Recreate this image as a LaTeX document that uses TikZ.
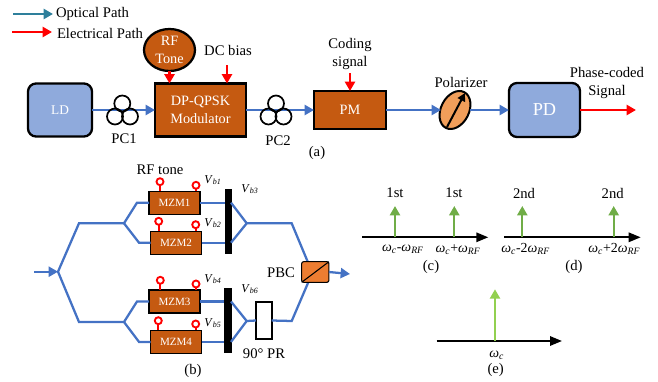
\documentclass[tikz,border=0pt]{standalone}
\usepackage{fontspec}
\setmainfont{Liberation Serif}
\usetikzlibrary{arrows.meta}
\usetikzlibrary{shapes.geometric}
\newcommand{\px}{0.75pt}
\newcommand{\vbias}[1]{\textit{V}\textsubscript{\textit{b#1}}}
\newcommand{\wc}{\textit{ω}\textsubscript{\textit{c}}}
\newcommand{\wrf}{\textit{ω}\textsubscript{\textit{RF}}}
\definecolor{boxorange}{HTML}{C55A11}
\definecolor{boxblue}{HTML}{8FAADC}
\definecolor{fibreblue}{HTML}{4472C4}
\definecolor{legendteal}{HTML}{2E7F9B}
\definecolor{pbcorange}{HTML}{ED7D31}
\definecolor{polorange}{HTML}{F19E5A}
\definecolor{linegreen}{HTML}{70AD47}
\definecolor{lightgreen}{HTML}{92D050}
\tikzset{
  every node/.style={font=\fontsize{11}{13}\selectfont, inner sep=0pt, outer sep=0pt},
  optical/.style={draw=fibreblue, line width=1.7pt, -{Triangle[length=7pt,width=7.5pt]}},
  fibre/.style={draw=fibreblue, line width=1.7pt},
  electrical/.style={draw=red, line width=1.7pt, -{Triangle[length=7pt,width=7.5pt]}},
  axisline/.style={draw=black, line width=1.5pt, -{Triangle[length=9pt,width=7pt]}},
  sideband/.style={draw=linegreen, line width=1.7pt, -{Triangle[length=7pt,width=7.5pt]}},
  blockbox/.style={draw=black, line width=1.7pt, fill=boxorange, text=white, align=center, font=\fontsize{10.7}{13}\selectfont},
  bluebox/.style={draw=black, line width=1.7pt, fill=boxblue, text=white, rounded corners=6pt},
  mzmbox/.style={draw=black, line width=0.9pt, fill=boxorange, text=white, minimum width=51*\px, minimum height=23*\px, font=\fontsize{8.3}{10}\selectfont},
  pcring/.style={draw=black, line width=1.3pt, circle, minimum size=16*\px},
  pin/.style={draw=red, line width=1.4pt, circle, fill=white, minimum size=7*\px},
  pinstem/.style={draw=red, line width=1.3pt},
  biasbar/.style={fill=black, minimum width=7.5*\px, minimum height=65*\px},
  biaslabel/.style={font=\fontsize{9}{11}\selectfont},
  freqlabel/.style={font=\fontsize{10.4}{12}\selectfont}
}
\begin{document}
\begin{tikzpicture}[x=\px, y=-\px]
      \useasboundingbox (0, 0) rectangle (658, 382);

      % legend
      \coordinate (optA) at (13, 14);
      \coordinate (optB) at (53, 14);
      \coordinate (eleA) at (12, 32);
      \coordinate (eleB) at (52, 32);
      \draw [legendteal, line width=1.7pt, -{Triangle[length=7pt,width=7.5pt]}] (optA) -- (optB);
      \draw [electrical] (eleA) -- (eleB);
      \node [anchor=west] (optlabel) at (56, 14) {Optical Path};
      \node [anchor=west] (elelabel) at (57, 33) {Electrical Path};

      % (a)
      \node [bluebox, minimum width=64*\px, minimum height=53*\px, font=\fontsize{10}{12}\selectfont] (ld) at (60, 110) {LD};
      \node [blockbox, minimum width=91*\px, minimum height=53*\px] (mod) at (200.5, 110) {DP-QPSK\\Modulator};
      \node [blockbox, minimum width=72*\px, minimum height=38*\px] (pm) at (350, 110) {PM};
      \node [bluebox, minimum width=71*\px, minimum height=54*\px, font=\fontsize{13.7}{15}\selectfont] (pd) at (544.5, 110) {PD};
      \node [draw=black, line width=1.7pt, ellipse, fill=boxorange, text=white, align=center, minimum width=51*\px, minimum height=42*\px, font=\fontsize{10.7}{13}\selectfont] (rf) at (169.5, 50) {RF\\Tone};
      \node [draw=black, line width=1.5pt, ellipse, fill=polorange, minimum width=40.2*\px, minimum height=28*\px, rotate=63] (pol) at (455, 110) {};

      \coordinate (polin) at (441, 110);
      \coordinate (polout) at (470, 110);
      \draw [optical] (ld.east) -- (mod.west);
      \draw [optical] (mod.east) -- (pm.west);
      \draw [optical] (pm.east) -- (polin);
      \draw [optical] (polout) -- (pd.west);

      \node [pcring] (pc1a) at (122.3, 103.5) {};
      \node [pcring] (pc1b) at (115, 116.5) {};
      \node [pcring] (pc1c) at (130, 116.5) {};
      \node [pcring] (pc2a) at (276, 103.5) {};
      \node [pcring] (pc2b) at (268.5, 116.5) {};
      \node [pcring] (pc2c) at (283.5, 116.5) {};
      \node (pc1) at (124, 139) {PC1};
      \node (pc2) at (278, 141) {PC2};

      \coordinate (polA) at (447, 127);
      \coordinate (polB) at (465, 93);
      \draw [black, line width=1.5pt, -{Triangle[length=6pt,width=6pt]}] (polA) -- (polB);

      \node (dcbias) at (228, 50) {DC bias};
      \node [align=center] (coding) at (350, 54) {Coding\\signal};
      \node (polarizer) at (461, 82) {Polarizer};
      \node [align=center] (phase) at (607, 83) {Phase-coded\\Signal};
      \node (capa) at (317, 153) {(a)};

      \coordinate (dcin) at (227, 65);
      \coordinate (codein) at (350, 73);
      \coordinate (pdout) at (636, 110);
      \draw [electrical] (rf.south) -- (rf.south |- mod.north);
      \draw [electrical] (dcin) -- (dcin |- mod.north);
      \draw [electrical] (codein) -- (codein |- pm.north);
      \draw [electrical] (pd.east) -- (pdout);

      % (b)
      \node [mzmbox] (mzm1) at (174.5, 202.7) {MZM1};
      \node [mzmbox] (mzm2) at (176, 242.7) {MZM2};
      \node [mzmbox] (mzm3) at (174.5, 301.5) {MZM3};
      \node [mzmbox] (mzm4) at (176, 341.9) {MZM4};
      \node [biasbar] (bar1) at (228.5, 221.5) {};
      \node [biasbar] (bar2) at (228, 320.8) {};
      \node [draw=black, line width=1.5pt, fill=white, minimum width=15.7*\px, minimum height=37.6*\px] (pr) at (263.8, 320.5) {};

      \coordinate (in) at (34, 271.7);
      \coordinate (split) at (58, 271.7);
      \coordinate (upA) at (79, 223.3);
      \coordinate (upB) at (124, 223.3);
      \coordinate (upC) at (137, 202.7);
      \coordinate (upD) at (139, 242.7);
      \coordinate (loA) at (79, 322);
      \coordinate (loB) at (124, 322);
      \coordinate (loC) at (137, 301.5);
      \coordinate (loD) at (139, 341.9);
      \coordinate (upE) at (231, 202.7);
      \coordinate (upF) at (231, 242.7);
      \coordinate (upG) at (246.7, 223.3);
      \coordinate (upH) at (291.7, 223.3);
      \coordinate (loE) at (231, 301.5);
      \coordinate (loF) at (231, 341.9);
      \coordinate (loG) at (246.7, 321);
      \coordinate (loH) at (291.7, 321);
      \coordinate (pbcin) at (307.7, 261.7);
      \coordinate (pbcinb) at (308.3, 282.3);
      \coordinate (out) at (350, 274);

      \draw [optical] (in) -- (split);
      \draw [fibre] (mzm1.west) -- (upC) -- (upB) -- (upA) -- (split) -- (loA) -- (loB) -- (loC) -- (mzm3.west);
      \draw [fibre] (upB) -- (upD) -- (mzm2.west);
      \draw [fibre] (loB) -- (loD) -- (mzm4.west);
      \draw [fibre] (mzm1.east) -- (bar1.west |- mzm1.east);
      \draw [fibre] (mzm2.east) -- (bar1.west |- mzm2.east);
      \draw [fibre] (mzm3.east) -- (bar2.west |- mzm3.east);
      \draw [fibre] (mzm4.east) -- (bar2.west |- mzm4.east);
      \draw [fibre] (upE) -- (upG) -- (upF);
      \draw [fibre] (upG) -- (upH) -- (pbcin);
      \draw [fibre] (loE) -- (loG) -- (loF);
      \draw [fibre] (loG) -- (pr.west);
      \draw [fibre] (pr.east) -- (loH) -- (pbcinb);

      \node [draw=black, line width=0.8pt, fill=pbcorange, rounded corners=1.5pt, minimum width=27.3*\px, minimum height=20.6*\px] (pbc) at (315.3, 272) {};
      \draw [black, line width=0.8pt] (pbc.south west) -- (pbc.north east);
      \draw [optical] (pbc.east) -- (out);

      % pins
      \node [pin] (pin1a) at (160, 181.7) {};
      \node [pin] (pin1b) at (196, 185.3) {};
      \node [pin] (pin2a) at (158.7, 221.3) {};
      \node [pin] (pin2b) at (195.7, 224.7) {};
      \node [pin] (pin3a) at (160.3, 280.3) {};
      \node [pin] (pin3b) at (196, 284) {};
      \node [pin] (pin4a) at (158.3, 320.7) {};
      \node [pin] (pin4b) at (195.7, 324) {};
      \draw [pinstem] (pin1a) -- (pin1a |- mzm1.north);
      \draw [pinstem] (pin1b) -- (pin1b |- mzm1.north);
      \draw [pinstem] (pin2a) -- (pin2a |- mzm2.north);
      \draw [pinstem] (pin2b) -- (pin2b |- mzm2.north);
      \draw [pinstem] (pin3a) -- (pin3a |- mzm3.north);
      \draw [pinstem] (pin3b) -- (pin3b |- mzm3.north);
      \draw [pinstem] (pin4a) -- (pin4a |- mzm4.north);
      \draw [pinstem] (pin4b) -- (pin4b |- mzm4.north);

      \node (rftone) at (160, 170) {RF tone};
      \node [biaslabel] (vb1) at (213, 180) {\vbias{1}};
      \node [biaslabel] (vb2) at (213, 223) {\vbias{2}};
      \node [biaslabel] (vb3) at (250, 189) {\vbias{3}};
      \node [biaslabel] (vb4) at (213, 279) {\vbias{4}};
      \node [biaslabel] (vb5) at (213, 323) {\vbias{5}};
      \node [biaslabel] (vb6) at (250, 289) {\vbias{6}};
      \node (pbclabel) at (281, 272.3) {PBC};
      \node (prlabel) at (264, 353.3) {90° PR};
      \node (capb) at (193, 371) {(b)};

      % (c)
      \coordinate (cA) at (362.3, 237.3);
      \coordinate (cB) at (488.3, 237.3);
      \coordinate (cL) at (395, 237.3);
      \coordinate (cLt) at (395, 206);
      \coordinate (cR) at (454.3, 237.3);
      \coordinate (cRt) at (454.3, 206);
      \draw [axisline] (cA) -- (cB);
      \draw [sideband] (cL) -- (cLt);
      \draw [sideband] (cR) -- (cRt);
      \node (cLn) at (395, 193) {1st};
      \node (cRn) at (454, 193) {1st};
      \node [freqlabel] (cLf) at (403, 249.3) {\wc-\wrf};
      \node [freqlabel] (cRf) at (458, 249.3) {\wc+\wrf};
      \node (capc) at (431, 266.7) {(c)};

      % (d)
      \coordinate (dA) at (504.3, 237.3);
      \coordinate (dB) at (640.7, 237.3);
      \coordinate (dL) at (522.3, 237.3);
      \coordinate (dLt) at (522.3, 206);
      \coordinate (dR) at (613.7, 237.3);
      \coordinate (dRt) at (613.7, 206);
      \draw [axisline] (dA) -- (dB);
      \draw [sideband] (dL) -- (dLt);
      \draw [sideband] (dR) -- (dRt);
      \node (dLn) at (524, 193) {2nd};
      \node (dRn) at (612.7, 193) {2nd};
      \node [freqlabel] (dLf) at (525.7, 249.3) {\wc-2\wrf};
      \node [freqlabel] (dRf) at (614.3, 249.3) {\wc+2\wrf};
      \node (capd) at (574, 267) {(d)};

      % (e)
      \coordinate (eA) at (436.7, 341);
      \coordinate (eB) at (562, 341);
      \coordinate (eM) at (495, 341);
      \coordinate (eMt) at (495, 289.3);
      \draw [axisline] (eA) -- (eB);
      \draw [lightgreen, line width=1.7pt, -{Triangle[length=7pt,width=7.5pt]}] (eM) -- (eMt);
      \node [freqlabel] (eMf) at (496.7, 355) {\wc};
      \node (cape) at (495.7, 370) {(e)};
    \end{tikzpicture}
\end{document}
